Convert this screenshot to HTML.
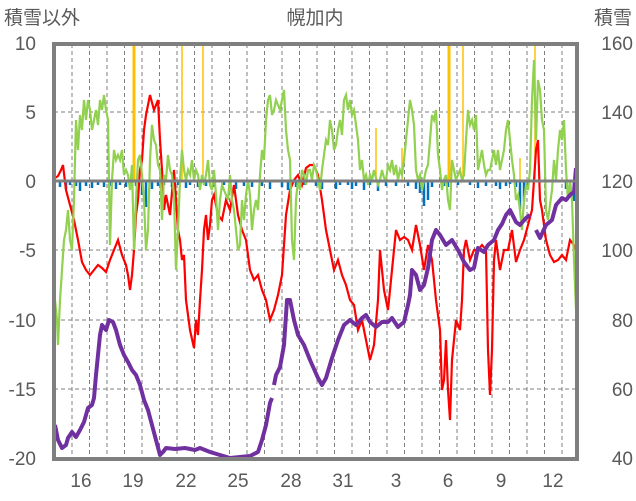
<!DOCTYPE html>
<html><head><meta charset="utf-8"><style>
html,body{margin:0;padding:0;background:#fff;}
svg{display:block;font-family:"Liberation Sans","Noto Sans CJK JP",sans-serif;}
text{fill:#595959;font-size:19px;}
</style></head><body>
<svg width="636" height="501" viewBox="0 0 636 501">
<g stroke="#7f7f7f" stroke-width="1" stroke-dasharray="4,3" fill="none">
<path d="M72 44V459M89.5 44V459M107 44V459M124.5 44V459M142 44V459M159.5 44V459M177 44V459M194.5 44V459M212 44V459M229.5 44V459M247 44V459M264.5 44V459M282 44V459M299.5 44V459M317 44V459M334.5 44V459M352 44V459M369.5 44V459M387 44V459M404.5 44V459M422 44V459M439.5 44V459M457 44V459M474.5 44V459M492 44V459M509.5 44V459M527 44V459M544.5 44V459M562 44V459"/>
<path d="M54 112H577M54 250H577M54 320H577M54 389H577"/>
</g>
<g stroke="#ffc000" fill="none">
<path stroke-width="3" d="M134 44V181M449 44V181"/>
<path stroke-width="1.5" d="M182 44V181M203 44V181M463 44V181M376 128V181M402 148V181M535 44V181M520 158V181"/>
</g>
<path stroke="#0070c0" stroke-width="2.5" fill="none" d="M60 181v6M66 181v8M70 181v4M76 181v5M80 181v10M86 181v5M92 181v7M98 181v4M104 181v6M110 181v5M116 181v8M120 181v4M126 181v6M136 181v5M142 181v14M146 181v26M152 181v8M158 181v5M164 181v4M172 181v6M178 181v4M186 181v7M190 181v4M198 181v6M206 181v5M214 181v6M224 181v4M236 181v8M244 181v5M252 181v6M262 181v5M270 181v8M282 181v6M288 181v9M296 181v6M304 181v4M316 181v5M322 181v8M336 181v8M340 181v4M348 181v4M352 181v8M356 181v5M364 181v9M370 181v4M378 181v10M386 181v5M396 181v5M408 181v5M416 181v8M420 181v12M424 181v25M428 181v19M432 181v6M444 181v5M448 181v6M458 181v4M470 181v4M478 181v7M486 181v5M496 181v5M500 181v8M506 181v5M510 181v3M516 181v6M520 181v28M524 181v20M528 181v6M566 181v8M570 181v14M574 181v20"/>
<polyline fill="none" stroke="#ff0000" stroke-width="2.2" points="55,178 58,176 61,170 63,165 66,190 70,205 74,220 78,240 82,262 86,270 90,275 94,270 98,265 102,268 106,272 110,260 114,250 118,240 122,255 126,265 128,275 130,290 132,275 134,250 136,215 138,200 140,170 142,160 144,130 146,115 150,95 154,110 158,100 160,140 162,170 164,210 166,195 170,215 174,170 176,200 178,230 180,240 182,260 184,255 186,300 190,330 194,348 196,320 198,335 200,300 202,270 204,230 206,215 208,240 210,225 212,200 214,195 218,215 222,220 226,200 230,210 234,185 238,215 242,230 246,240 250,270 254,280 258,275 262,290 266,300 270,320 274,310 278,295 282,275 286,215 290,190 294,180 298,175 302,185 306,168 310,165 314,165 318,175 322,200 326,230 330,250 334,270 338,260 342,275 346,285 350,300 354,305 358,330 362,320 366,340 370,360 374,345 378,300 380,250 382,270 384,290 388,310 392,270 396,230 400,240 404,237 408,240 412,250 416,225 420,245 424,270 428,245 432,260 436,300 440,330 442,390 444,380 446,340 448,390 450,420 452,360 454,340 456,320 460,330 462,300 464,250 466,240 470,260 474,250 478,250 482,245 486,250 488,350 490,395 492,350 494,260 496,240 500,270 504,250 508,250 512,230 516,262 520,250 524,240 528,225 532,210 536,150 538,140 540,200 542,210 546,240 550,255 554,262 558,260 562,255 566,260 570,240 574,245 576,250"/>
<polyline fill="none" stroke="#92d050" stroke-width="2.2" points="55,300 57,320 58,345 60,300 62,270 64,240 66,230 68,210 70,240 72,250 74,200 76,120 78,150 80,115 82,130 84,100 86,120 88,100 90,110 92,130 94,120 96,110 98,125 100,100 102,110 104,95 106,110 108,120 110,245 112,180 114,150 116,160 118,155 120,160 122,150 124,175 126,170 128,175 130,190 132,165 134,250 136,200 138,160 140,155 142,175 144,200 146,250 148,230 150,160 152,125 154,140 156,145 158,165 160,170 162,220 164,175 166,180 168,155 170,170 172,175 174,195 176,270 178,230 180,180 182,150 184,170 186,180 188,170 190,175 192,160 194,180 196,170 198,175 200,190 202,175 204,185 206,175 208,160 210,185 212,190 214,170 216,195 218,230 220,200 222,185 224,190 226,195 228,200 230,175 232,200 234,210 236,230 238,250 240,245 242,200 244,220 246,195 248,180 250,195 252,230 254,210 256,200 258,210 260,175 262,150 264,160 266,120 268,100 270,95 272,115 274,110 276,100 278,105 280,110 282,100 284,90 286,130 288,150 290,160 292,240 294,260 296,200 298,180 300,190 302,170 304,175 306,185 308,170 310,170 312,180 314,165 316,170 318,180 320,190 322,170 324,155 326,140 328,145 330,120 332,130 334,150 336,145 338,130 340,120 342,135 344,100 346,95 348,110 350,100 352,115 354,110 356,125 358,140 360,170 362,160 364,180 366,175 368,185 370,175 372,180 374,170 376,178 378,185 380,180 382,170 384,178 386,180 388,165 390,170 392,160 394,175 396,165 398,180 400,170 402,175 404,160 406,140 408,120 410,100 412,110 414,125 416,170 418,180 420,175 422,190 424,180 426,170 428,165 430,140 432,115 434,120 436,110 438,155 440,170 442,190 444,180 446,175 448,200 450,210 452,160 454,170 456,180 458,175 460,170 462,180 464,175 466,140 468,110 470,125 472,120 474,130 476,115 478,170 480,160 482,150 484,165 486,175 488,170 490,170 492,160 494,150 496,165 498,150 500,170 502,160 504,150 506,130 508,120 510,140 512,160 514,175 516,200 518,195 520,210 522,230 524,200 526,185 528,190 530,170 532,100 534,60 536,140 538,80 540,90 542,120 544,130 546,210 548,220 550,205 552,190 554,160 556,180 558,150 560,130 562,140 564,120 566,170 568,200 570,180 572,200 574,260 576,310"/>
<g fill="none" stroke="#7030a0" stroke-width="4" stroke-linejoin="round">
<polyline points="55,425 58,440 62,448 66,445 68,438 72,432 76,437 80,430 84,422 88,408 92,405 94,398 96,375 98,355 100,335 102,325 106,330 109,320 113,322 116,330 120,345 124,355 128,362 132,370 136,375 140,385 144,400 148,410 152,425 156,440 160,455 163,452 166,448 175,449 185,448 195,450 200,448 210,452 220,455 230,458 240,457 250,456 258,452 262,440 266,425 270,403 272,398"/>
<polyline points="274,385 276,375 280,367 284,345 287,300 290,300 294,320 298,335 304,345 310,360 318,378 322,385 326,378 332,358 338,340 344,325 350,320 356,325 362,318 366,315 370,322 376,327 382,322 388,322 392,318 398,327 404,322 408,305 410,295 412,270 416,275 420,290 424,285 428,268 432,240 436,230 440,235 446,245 452,240 458,250 464,262 470,270 474,268 478,248 484,252 488,245 494,240 498,230 502,224 506,215 510,210 516,222 520,225 526,218 530,215"/>
<polyline points="536,230 540,238 546,225 552,220 556,205 562,198 566,200 570,195 574,192 576,168"/>
</g>
<path d="M54 181H577" stroke="#7f7f7f" stroke-width="3"/>
<rect x="54" y="44" width="523" height="415" fill="none" stroke="#7f7f7f" stroke-width="4"/>
<text x="4" y="24">積雪以外</text>
<text x="315" y="24" text-anchor="middle">幌加内</text>
<text x="632" y="24" text-anchor="end">積雪</text>
<g text-anchor="end">
<text x="36" y="50">10</text><text x="36" y="119">5</text><text x="36" y="188">0</text><text x="36" y="257">-5</text><text x="36" y="327">-10</text><text x="36" y="396">-15</text><text x="36" y="465">-20</text>
</g>
<g text-anchor="end">
<text x="633" y="50">160</text><text x="633" y="119">140</text><text x="633" y="188">120</text><text x="633" y="257">100</text><text x="633" y="327">80</text><text x="633" y="396">60</text><text x="633" y="465">40</text>
</g>
<g text-anchor="middle">
<text x="81" y="487">16</text><text x="133" y="487">19</text><text x="186" y="487">22</text><text x="238" y="487">25</text><text x="291" y="487">28</text><text x="343" y="487">31</text><text x="396" y="487">3</text><text x="448" y="487">6</text><text x="501" y="487">9</text><text x="553" y="487">12</text>
</g>
</svg>
</body></html>
